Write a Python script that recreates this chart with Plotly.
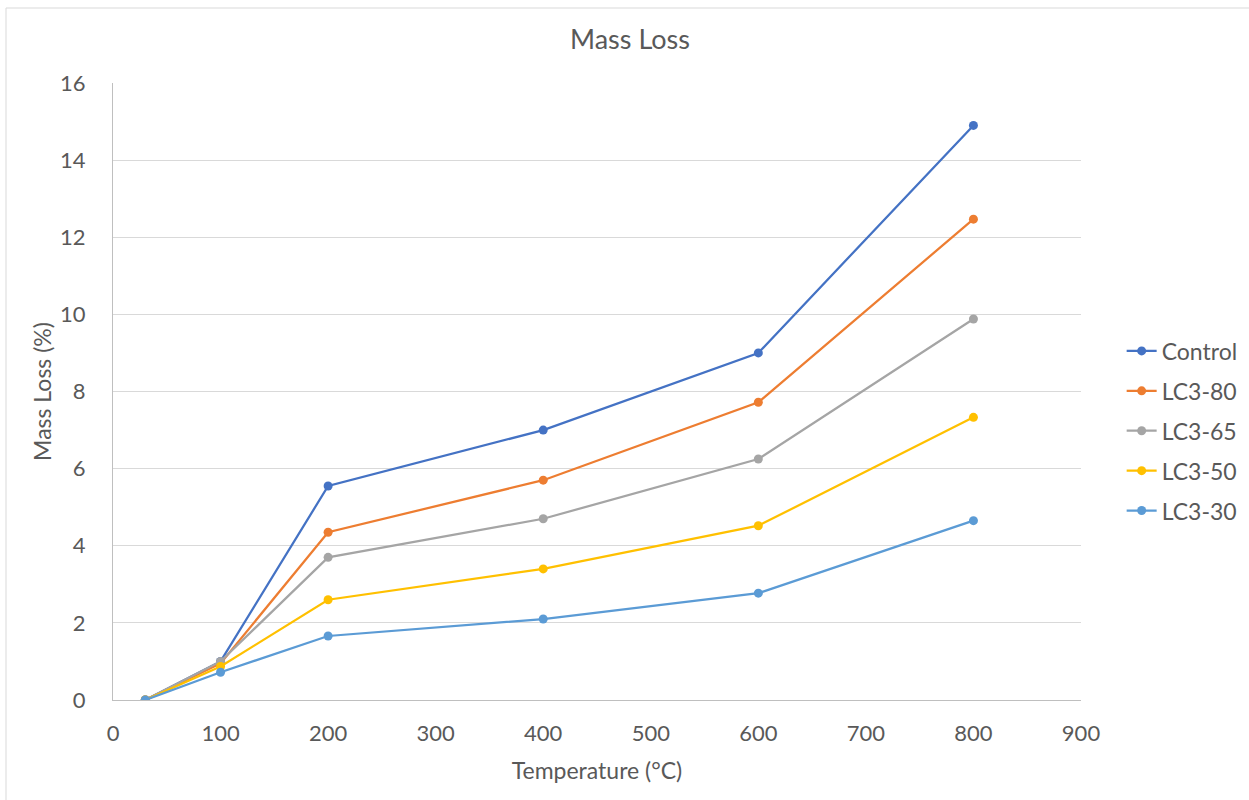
import plotly.graph_objects as go

# Temperatures (°C) at which mass loss was measured
temperature = [30, 100, 200, 400, 600, 800]

# Mass loss (%) per mix
control = [0.0, 1.0, 5.55, 7.0, 9.0, 14.9]
lc3_80 = [0.0, 0.95, 4.35, 5.7, 7.72, 12.47]
lc3_65 = [0.0, 1.0, 3.7, 4.7, 6.25, 9.88]
lc3_50 = [0.0, 0.87, 2.6, 3.4, 4.52, 7.33]
lc3_30 = [0.0, 0.72, 1.66, 2.1, 2.77, 4.65]

series_names = ["Control", "LC3-80", "LC3-65", "LC3-50", "LC3-30"]
series_values = [control, lc3_80, lc3_65, lc3_50, lc3_30]
series_colors = ["#4472C4", "#ED7D31", "#A5A5A5", "#FFC000", "#5B9BD5"]

x_ticks = [0, 100, 200, 300, 400, 500, 600, 700, 800, 900]
y_ticks = [0, 2, 4, 6, 8, 10, 12, 14, 16]

FONT = "Lato, 'Open Sans', sans-serif"
TEXT = "#595959"

fig = go.Figure()
for name, vals, col in zip(series_names, series_values, series_colors):
    fig.add_trace(go.Scatter(
        x=temperature, y=vals, name=name, mode="lines+markers",
        line=dict(color=col, width=2.25),
        marker=dict(color=col, size=9),
        legendgroup=name,
    ))

fig.update_layout(
    width=1249, height=800,
    margin=dict(l=113, r=168, t=83, b=100, autoexpand=False),
    paper_bgcolor="white", plot_bgcolor="white",
    font=dict(family=FONT, color=TEXT, size=22),
    title=dict(text="Mass Loss", x=630 / 1249, xref="container", xanchor="center",
               y=1 - 40 / 800, yanchor="middle",
               font=dict(size=27, color=TEXT, family=FONT)),
    showlegend=True,
    legend=dict(x=1.042, xanchor="left", y=0.436, yanchor="middle",
                font=dict(size=23, color=TEXT, family=FONT),
                tracegroupgap=7, itemwidth=30),
    xaxis=dict(
        range=[0, 900], tickvals=x_ticks, ticktext=[str(v) for v in x_ticks],
        showgrid=False, zeroline=False,
        showline=True, linecolor="#BFBFBF", linewidth=1,
        ticks="", tickfont=dict(size=22, color=TEXT), ticklabelstandoff=14,
        title=dict(text="Temperature (°C)", font=dict(size=23, color=TEXT), standoff=17),
    ),
    yaxis=dict(
        range=[0, 16], tickvals=y_ticks, ticktext=[str(v) for v in y_ticks],
        showgrid=True, gridcolor="#D9D9D9", gridwidth=1, zeroline=False,
        showline=True, linecolor="#BFBFBF", linewidth=1,
        ticks="", tickfont=dict(size=22, color=TEXT), ticklabelstandoff=22,
        title=dict(text="Mass Loss (%)", font=dict(size=23, color=TEXT), standoff=2),
    ),
    shapes=[dict(type="rect", xref="paper", yref="paper",
                 x0=-107 / 968, x1=1.2, y0=-0.2, y1=1 + 75 / 617,
                 line=dict(color="#D9D9D9", width=1), layer="below")],
)

fig.write_html("out.html")
